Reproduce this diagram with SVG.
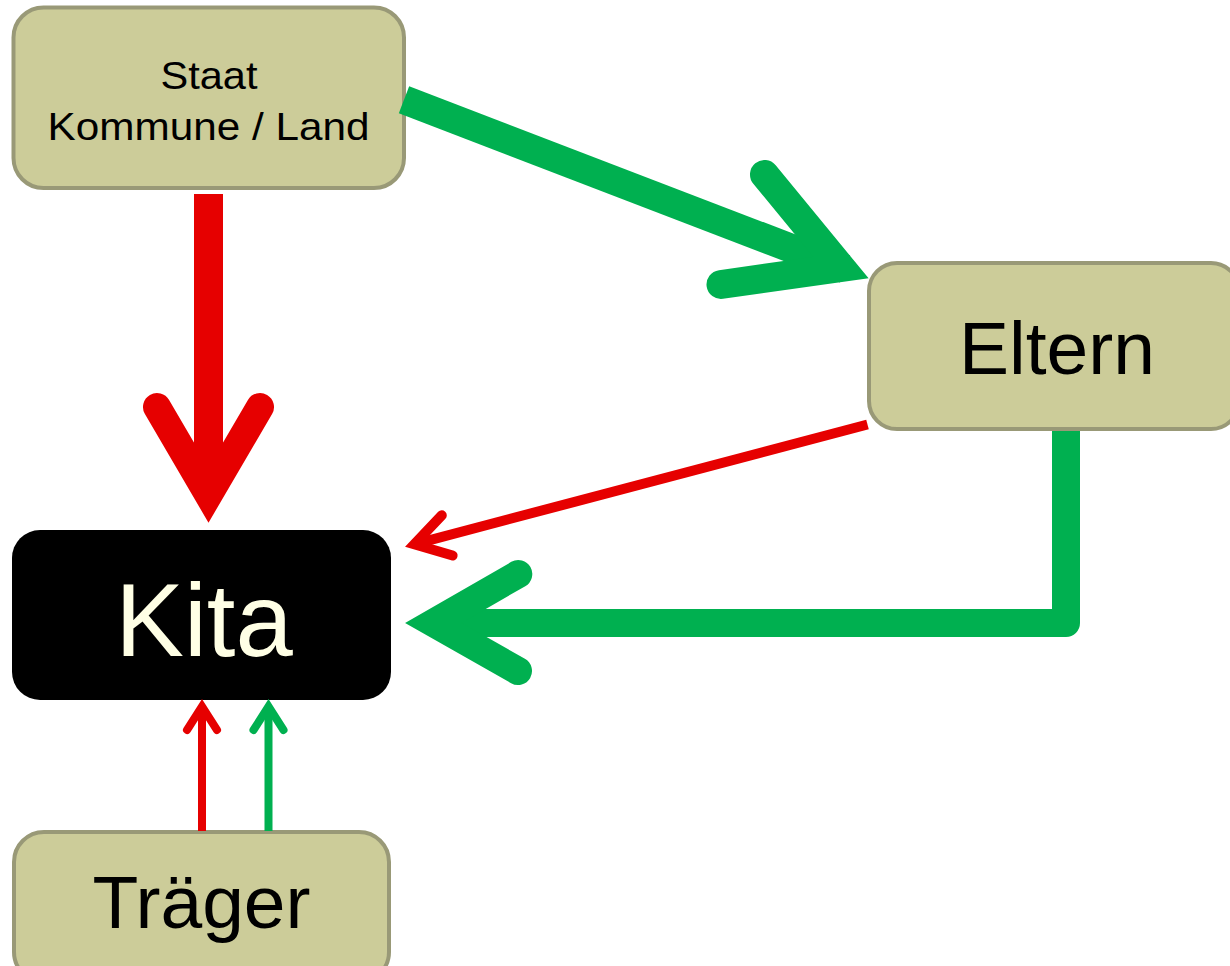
<svg xmlns="http://www.w3.org/2000/svg" width="1230" height="966" viewBox="0 0 1230 966">
<style>
.box{fill:#CCCC99;stroke:#999977;stroke-width:4}
.lbl{font-family:"Liberation Sans",Arial,sans-serif;fill:#000;text-anchor:middle}
.red{stroke:#E60000;fill:none}
.grn{stroke:#00B050;fill:none}
.shaft{stroke-linecap:butt}
.head{stroke-linecap:round;stroke-linejoin:miter;stroke-miterlimit:10}
</style>
<rect width="1230" height="966" fill="#FFFFFF"/>
<g id="staat">
<rect class="box" x="13.5" y="7.5" width="390.5" height="180.5" rx="30"/>
<text class="lbl" x="209" y="88.5" font-size="39" textLength="97" lengthAdjust="spacingAndGlyphs">Staat</text>
<text class="lbl" x="208.5" y="139.5" font-size="39" textLength="322" lengthAdjust="spacingAndGlyphs">Kommune / Land</text>
</g>
<g id="eltern">
<rect class="box" x="869" y="263" width="370" height="166" rx="28"/>
<text class="lbl" x="1057" y="374" font-size="75">Eltern</text>
</g>
<g id="kita">
<rect x="12" y="530" width="379" height="170" rx="28" fill="#000000"/>
<text class="lbl" x="204" y="656" font-size="103" style="fill:#FFFFE5">Kita</text>
</g>
<g id="traeger">
<rect class="box" x="14" y="832" width="375" height="150" rx="30"/>
<text class="lbl" x="201.5" y="928" font-size="75">Träger</text>
</g>
<g id="connectors">
<line class="red shaft" x1="208.5" y1="194" x2="208.5" y2="480" stroke-width="29"/>
<path class="red head" d="M157,407 L208.5,495 L260,407" stroke-width="28"/>
<line class="grn shaft" x1="404" y1="99.8" x2="845" y2="269" stroke-width="29"/>
<path class="grn head" d="M764.5,174.5 L841,267.6 L721,284.5" stroke-width="29"/>
<line class="red shaft" x1="867.5" y1="424.5" x2="419.5" y2="542.8" stroke-width="10"/>
<path class="red head" d="M441.8,515.3 L414.3,544.2 L452.6,555.5" stroke-width="10"/>
<path class="grn" d="M1066,431 L1066,623 L460,623" stroke-width="28" stroke-linejoin="round"/>
<path class="grn head" d="M518.3,574 L433.3,623 L518,671" stroke-width="28"/>
<line class="red shaft" x1="202" y1="831" x2="202" y2="712" stroke-width="8"/>
<path class="red head" d="M187,730 L202,706.5 L217,730" stroke-width="8"/>
<line class="grn shaft" x1="268.5" y1="831" x2="268.5" y2="712" stroke-width="8"/>
<path class="grn head" d="M253.5,730 L268.5,706.5 L283.5,730" stroke-width="8"/>
</g>
</svg>
